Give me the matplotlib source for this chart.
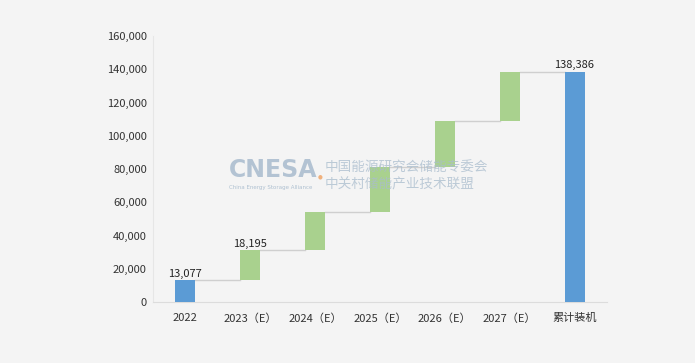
import matplotlib.pyplot as plt
from matplotlib.ticker import FuncFormatter

plt.rcParams['font.family'] = ['Noto Sans CJK SC', 'DejaVu Sans']

categories = ["2022", "2023（E）", "2024（E）", "2025（E）", "2026（E）", "2027（E）", "累计装机"]
base_value = 13077
increments = [18195, 23000, 27100, 27500, 29514]
total_value = 138386
labels = {0: "13,077", 1: "18,195", 6: "138,386"}

blue = "#5b9bd5"
green = "#a9d18e"
bg = "#f4f4f4"

# cumulative levels
levels = [base_value]
for inc in increments:
    levels.append(levels[-1] + inc)

fig = plt.figure(figsize=(6.95, 3.63), dpi=100, facecolor=bg)
ax = fig.add_axes([153 / 695, 1 - 302 / 363, 454 / 695, 266 / 363])
ax.set_facecolor(bg)

w = 0.31
ax.bar(0, base_value, width=w, color=blue, zorder=3)
for i, inc in enumerate(increments):
    ax.bar(i + 1, inc, bottom=levels[i], width=w, color=green, zorder=3)
ax.bar(6, total_value, width=w, color=blue, zorder=3)

# connector lines
for i in range(len(levels)):
    ax.plot([i + w / 2, i + 1 - w / 2], [levels[i], levels[i]],
            color="#cfcfcf", lw=1, zorder=2)

tops = [base_value, levels[1], None, None, None, None, total_value]
for i, txt in labels.items():
    ax.text(i, tops[i] + 900, txt, ha="center", va="bottom",
            fontsize=8, color="#222222", zorder=4)

ax.set_xlim(-0.5, 6.5)
ax.set_ylim(0, 160000)
ax.set_yticks(range(0, 160001, 20000))
ax.yaxis.set_major_formatter(FuncFormatter(lambda v, p: f"{int(v):,}"))
ax.set_xticks(range(len(categories)))
ax.set_xticklabels(categories)
ax.tick_params(axis="both", length=0, labelsize=8, colors="#333333")
ax.tick_params(axis="x", pad=8)
ax.tick_params(axis="y", pad=4.5)

for s in ["top", "right"]:
    ax.spines[s].set_visible(False)
ax.spines["left"].set_color("#e6e6e6")
ax.spines["bottom"].set_color("#dcdcdc")

# watermark
fig.text(229 / 695, 1 - 170 / 363, "CNESA", fontsize=17, fontweight="bold",
         color="#9db3c8", alpha=0.75, ha="left", va="center",
         family="DejaVu Sans", zorder=5)
fig.text(320 / 695, 1 - 177 / 363, "●", fontsize=4, color="#f0a060",
         alpha=0.8, ha="center", va="center", family="DejaVu Sans", zorder=5)
fig.text(229 / 695, 1 - 187 / 363, "China Energy Storage Alliance", fontsize=4,
         color="#9db3c8", alpha=0.8, ha="left", va="center",
         family="DejaVu Sans", zorder=5)
fig.text(325 / 695, 1 - 168 / 363, "中国能源研究会储能专委会", fontsize=9.8,
         color="#a9bccd", alpha=0.75, ha="left", va="center", zorder=5)
fig.text(325 / 695, 1 - 184 / 363, "中关村储能产业技术联盟", fontsize=9.8,
         color="#a9bccd", alpha=0.75, ha="left", va="center", zorder=5)

fig.savefig("out.png", dpi=100, facecolor=bg)
